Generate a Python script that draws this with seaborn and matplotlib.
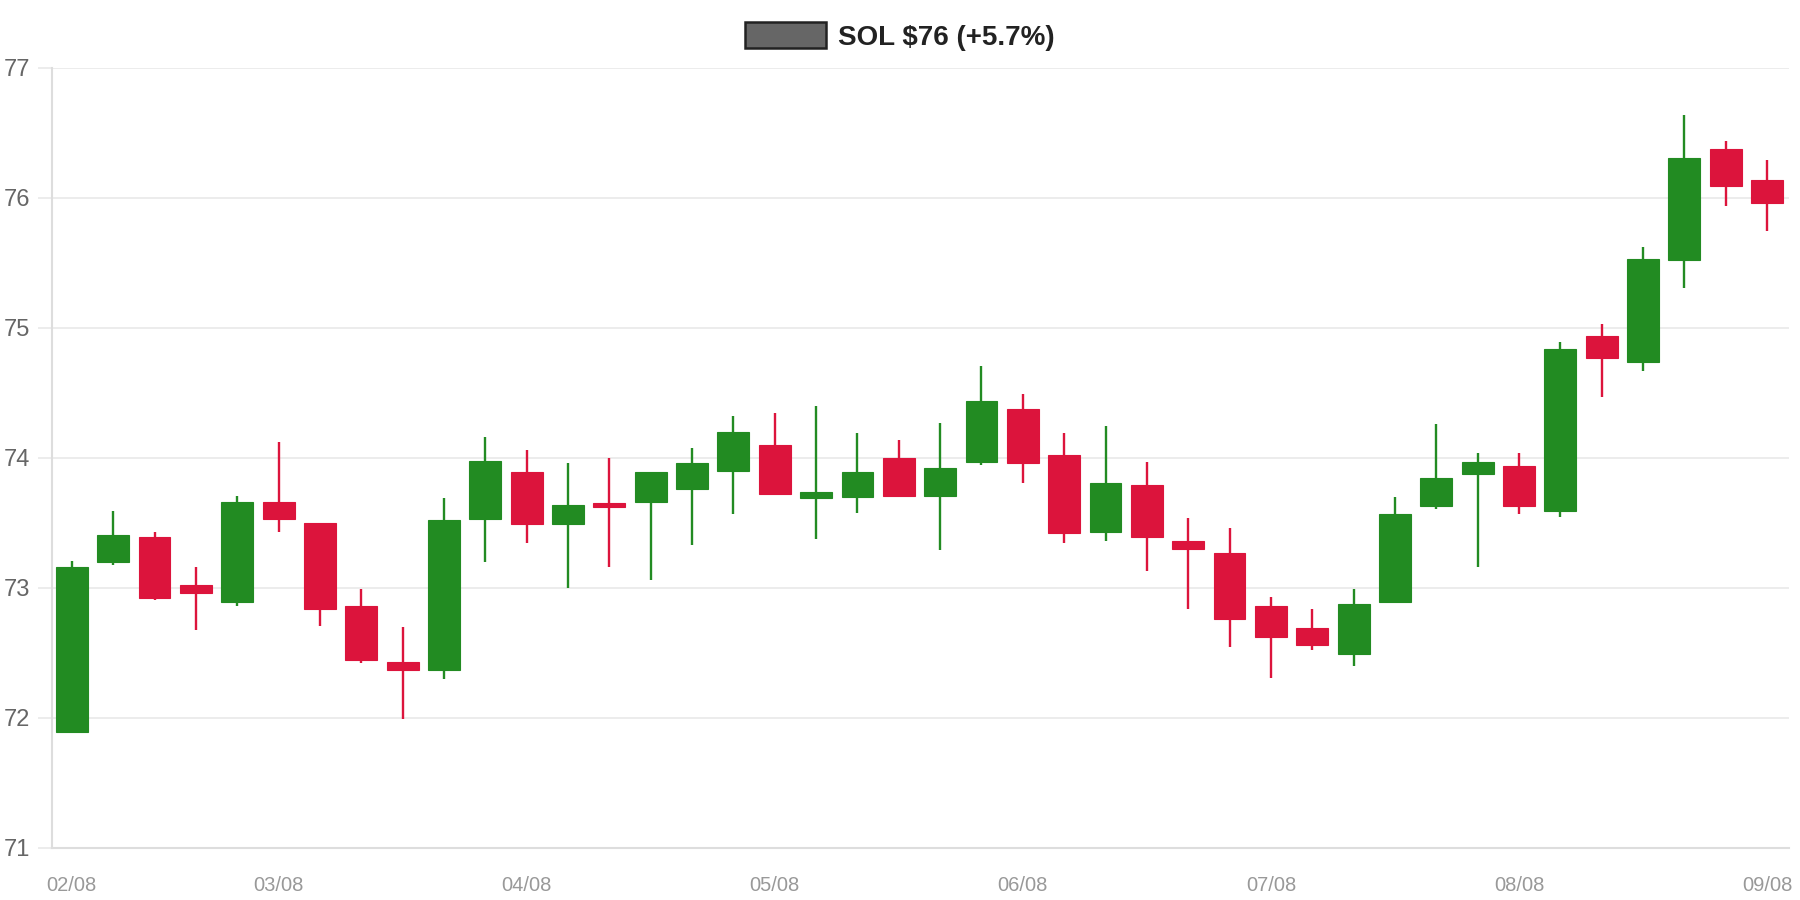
import matplotlib
matplotlib.use("Agg")
import matplotlib.pyplot as plt
from matplotlib.patches import Patch
import seaborn as sns
import numpy as np
import pandas as pd

# ---- data (4-hour candles, 02/08 04:00 -> 09/08 00:00) ----
opens = [71.89, 73.20, 73.39, 73.02, 72.89, 73.66, 73.50, 72.86, 72.43, 72.37,
         73.53, 73.89, 73.49, 73.65, 73.66, 73.76, 73.90, 74.10, 73.69, 73.70,
         74.00, 73.71, 73.97, 74.38, 74.02, 73.43, 73.79, 73.36, 73.27, 72.86,
         72.69, 72.49, 72.89, 73.63, 73.88, 73.94, 73.59, 74.94, 74.74, 75.52,
         76.38, 76.14]
closes = [73.16, 73.41, 72.92, 72.96, 73.66, 73.53, 72.84, 72.45, 72.37, 73.52,
          73.98, 73.49, 73.64, 73.62, 73.89, 73.96, 74.20, 73.72, 73.74, 73.89,
          73.71, 73.92, 74.44, 73.96, 73.42, 73.81, 73.39, 73.30, 72.76, 72.62,
          72.56, 72.88, 73.57, 73.85, 73.97, 73.63, 74.84, 74.77, 75.53, 76.31,
          76.09, 75.96]
highs = [73.21, 73.59, 73.43, 73.16, 73.71, 74.12, 73.50, 72.99, 72.70, 73.69,
         74.16, 74.06, 73.96, 74.00, 73.89, 74.08, 74.32, 74.35, 74.40, 74.19,
         74.14, 74.27, 74.71, 74.49, 74.19, 74.25, 73.97, 73.54, 73.46, 72.93,
         72.84, 72.99, 73.70, 74.26, 74.04, 74.04, 74.89, 75.03, 75.62, 76.64,
         76.44, 76.29]
lows = [71.89, 73.18, 72.91, 72.68, 72.86, 73.43, 72.71, 72.42, 71.99, 72.30,
        73.20, 73.35, 73.00, 73.16, 73.06, 73.33, 73.57, 73.72, 73.38, 73.58,
        73.71, 73.29, 73.95, 73.81, 73.35, 73.36, 73.13, 72.84, 72.55, 72.31,
        72.52, 72.40, 72.89, 73.61, 73.16, 73.57, 73.55, 74.47, 74.67, 75.31,
        75.94, 75.75]
tick_positions = [0, 5, 11, 17, 23, 29, 35, 41]
tick_labels = ["02/08", "03/08", "04/08", "05/08", "06/08", "07/08", "08/08", "09/08"]
y_ticks = [71, 72, 73, 74, 75, 76, 77]
legend_label = "SOL $76 (+5.7%)"

UP = "#228B22"
DOWN = "#DC143C"

df = pd.DataFrame({"open": opens, "close": closes, "high": highs, "low": lows})
df["idx"] = np.arange(len(df))
df["up"] = df["close"] >= df["open"]
df["bottom"] = df[["open", "close"]].min(axis=1)
df["height"] = (df["close"] - df["open"]).abs().clip(lower=0.03)
df["color"] = np.where(df["up"], UP, DOWN)

sns.set_theme(style="white")
plt.rcParams["font.family"] = ["Liberation Sans", "DejaVu Sans"]

fig = plt.figure(figsize=(18, 9), dpi=100)
ax = fig.add_axes([52 / 1800, 52 / 900, (1789 - 52) / 1800, (848 - 68) / 900])

# wicks
ax.vlines(df["idx"], df["low"], df["high"], colors=df["color"], linewidth=1.7, zorder=2)
# bodies
ax.bar(df["idx"], df["height"], bottom=df["bottom"], width=0.77,
       color=df["color"], edgecolor=df["color"], linewidth=0.8, zorder=3)

ax.set_xlim(-0.48, 41.53)
ax.set_ylim(71, 77)
ax.set_yticks(y_ticks)
ax.set_yticklabels([str(v) for v in y_ticks])
ax.set_xticks(tick_positions)
ax.set_xticklabels(tick_labels)

ax.grid(axis="y", color="#ebebeb", linewidth=1.3)
ax.grid(axis="x", visible=False)
ax.set_axisbelow(True)

for side in ["top", "right"]:
    ax.spines[side].set_visible(False)
for side in ["left", "bottom"]:
    ax.spines[side].set_color("#dddddd")
    ax.spines[side].set_linewidth(1.5)

ax.tick_params(axis="y", length=10, width=1.3, color="#ebebeb", pad=6,
               labelsize=17, labelcolor="#666666", left=True)
ax.tick_params(axis="x", length=0, pad=20, labelsize=14.5, labelcolor="#999999",
               bottom=True)

handle = Patch(facecolor="#666666", edgecolor="#222222", linewidth=1.8)
leg = fig.legend([handle], [legend_label], loc="center", bbox_to_anchor=(0.5, 1 - 36.5 / 900),
                 frameon=False, handlelength=2.9, handleheight=1.05, handletextpad=0.45,
                 prop={"family": "Liberation Sans", "weight": "bold", "size": 20})
for t in leg.get_texts():
    t.set_color("#222222")

fig.savefig("out.png", dpi=100, facecolor="white")
